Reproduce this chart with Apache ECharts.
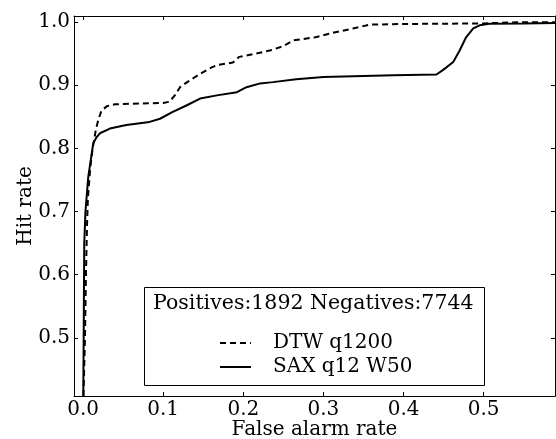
<!DOCTYPE html>
<html>
<head>
<meta charset="utf-8">
<script src="https://cdn.jsdelivr.net/npm/echarts@6/dist/echarts.min.js"></script>
<style>
  html, body { margin: 0; padding: 0; background: #fff; }
  #box { width: 556px; height: 439px; }
</style>
</head>
<body>
<div id="box"></div>
<script>
var chart = echarts.init(document.getElementById('box'));

// ROC curves
var dtwFar = [0.0005, 0.0024, 0.0036, 0.005, 0.006, 0.009, 0.012, 0.016, 0.019, 0.023, 0.03, 0.04, 0.07, 0.1, 0.108, 0.115, 0.121, 0.13, 0.146, 0.16, 0.167, 0.187, 0.195, 0.215, 0.233, 0.25, 0.262, 0.29, 0.308, 0.337, 0.358, 0.4, 0.5, 0.55, 0.6];
var dtwHit = [0.408, 0.5, 0.6, 0.68, 0.72, 0.77, 0.80, 0.83, 0.845, 0.86, 0.867, 0.870, 0.871, 0.872, 0.874, 0.885, 0.897, 0.905, 0.918, 0.928, 0.932, 0.936, 0.945, 0.950, 0.955, 0.962, 0.971, 0.976, 0.982, 0.990, 0.996, 0.997, 0.998, 1.0, 1.0];
var saxFar = [0.0003, 0.001, 0.0015, 0.003, 0.0065, 0.0127, 0.017, 0.021, 0.0335, 0.054, 0.083, 0.096, 0.112, 0.129, 0.146, 0.167, 0.192, 0.204, 0.221, 0.237, 0.266, 0.300, 0.387, 0.441, 0.449, 0.462, 0.470, 0.478, 0.487, 0.495, 0.507, 0.55, 0.6];
var saxHit = [0.408, 0.55, 0.65, 0.70, 0.755, 0.808, 0.818, 0.824, 0.8315, 0.837, 0.842, 0.847, 0.858, 0.868, 0.879, 0.884, 0.889, 0.897, 0.903, 0.905, 0.9095, 0.913, 0.916, 0.917, 0.924, 0.937, 0.955, 0.976, 0.990, 0.995, 0.9976, 0.998, 0.999];

var xTicks = [0.0, 0.1, 0.2, 0.3, 0.4, 0.5];
var yTicks = [0.5, 0.6, 0.7, 0.8, 0.9, 1.0];
var legendTitle = 'Positives:1892 Negatives:7744';
var names = ['DTW q1200', 'SAX q12 W50'];

function pairs(xs, ys) {
  return xs.map(function(x, i) { return [x, ys[i]]; });
}

var font = 'DejaVu Serif';
var xMin = -0.0113, xMax = 0.589;
var yMin = 0.408, yMax = 1.0097;

function xAx(pos, show) {
  return {
    type: 'value', position: pos, min: xMin, max: xMax,
    axisLine: { show: true, onZero: false, lineStyle: { color: '#000', width: 1 } },
    axisTick: { show: true, inside: true, length: 4, customValues: xTicks, lineStyle: { color: '#000' } },
    axisLabel: { show: show, customValues: xTicks, margin: 4, color: '#000', fontFamily: font, fontSize: 20,
      formatter: function(v) { return v.toFixed(1); } },
    splitLine: { show: false },
    name: show ? 'False alarm rate' : '',
    nameLocation: 'middle', nameGap: 24, nameMoveOverlap: false,
    nameTextStyle: { color: '#000', fontFamily: font, fontSize: 20, verticalAlign: 'top' }
  };
}
function yAx(pos, show) {
  return {
    type: 'value', position: pos, min: yMin, max: yMax,
    axisLine: { show: true, onZero: false, lineStyle: { color: '#000', width: 1 } },
    axisTick: { show: true, inside: true, length: 4, customValues: yTicks, lineStyle: { color: '#000' } },
    axisLabel: { show: show, customValues: yTicks, margin: 4, color: '#000', fontFamily: font, fontSize: 20,
      formatter: function(v) { return v.toFixed(1); } },
    splitLine: { show: false },
    name: show ? 'Hit rate' : '',
    nameLocation: 'middle', nameGap: 38, nameRotate: 90, nameMoveOverlap: false,
    nameTextStyle: { color: '#000', fontFamily: font, fontSize: 20 }
  };
}

option = {
  animation: false,
  backgroundColor: '#fff',
  grid: { left: 74, top: 16, right: 1, bottom: 43, outerBoundsMode: 'none' },
  xAxis: [xAx('bottom', true), xAx('top', false)],
  yAxis: [yAx('left', true), yAx('right', false)],
  legend: {
    orient: 'vertical',
    left: 214, top: 328, z: 10,
    itemWidth: 31, itemHeight: 14, itemGap: 4,
    itemStyle: { color: 'transparent', borderWidth: 0 },
    textStyle: { color: '#000', fontFamily: font, fontSize: 20, padding: [0, 0, 0, 17] },
    data: names
  },
  graphic: [
    { type: 'rect', shape: { x: 144.5, y: 287.5, width: 340, height: 98 },
      style: { fill: '#fff', stroke: '#000', lineWidth: 1 }, z: 3 },
    { type: 'text', x: 153, y: 293, z: 6,
      style: { text: legendTitle, fill: '#000', font: '20.5px "DejaVu Serif"' } }
  ],
  series: [{
      name: names[0],
      type: 'line',
      symbol: 'none',
      lineStyle: { color: '#000', width: 2, type: [6, 4] },
      itemStyle: { color: '#000' },
      data: pairs(dtwFar, dtwHit)
    },
    {
      name: names[1],
      type: 'line',
      symbol: 'none',
      lineStyle: { color: '#000', width: 2 },
      itemStyle: { color: '#000' },
      data: pairs(saxFar, saxHit)
    }
  ]
};

chart.setOption(option);
</script>
</body>
</html>
